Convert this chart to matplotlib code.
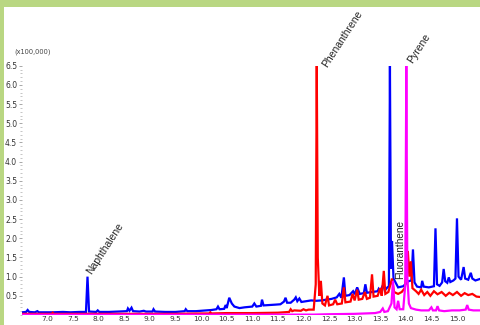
import numpy as np
import matplotlib.pyplot as plt
from matplotlib.patches import Rectangle
from matplotlib.ticker import MultipleLocator, FixedLocator

# Retention time (min) and intensity (x100,000)
blue_t = [6.50, 6.58, 6.61, 6.64, 6.75, 6.80, 6.83, 6.95, 7.10, 7.30, 7.45, 7.62,
          7.75, 7.78, 7.81, 7.95, 7.98, 8.01, 8.20, 8.40, 8.55, 8.57, 8.60, 8.64,
          8.67, 8.80, 8.88, 8.92, 9.05, 9.07, 9.10, 9.30, 9.50, 9.68, 9.70, 9.73,
          9.90, 10.10, 10.20, 10.30, 10.33, 10.36, 10.45, 10.48, 10.50, 10.55, 10.60,
          10.65, 10.75, 10.85, 11.00, 11.04, 11.08, 11.17, 11.19, 11.22, 11.35, 11.45,
          11.55, 11.62, 11.65, 11.68, 11.75, 11.82, 11.85, 11.88, 11.92, 11.96, 12.05,
          12.15, 12.25, 12.35, 12.45, 12.55, 12.65, 12.70, 12.74, 12.79, 12.82, 12.90,
          12.97, 13.00, 13.05, 13.10, 13.18, 13.21, 13.24, 13.35, 13.45, 13.47, 13.50,
          13.56, 13.59, 13.64, 13.67, 13.69, 13.71, 13.73, 13.76, 13.80, 13.85, 13.95,
          14.05, 14.11, 14.14, 14.17, 14.22, 14.30, 14.32, 14.35, 14.45, 14.55, 14.58,
          14.61, 14.66, 14.71, 14.74, 14.77, 14.81, 14.84, 14.87, 14.93, 14.97, 15.00,
          15.03, 15.08, 15.13, 15.16, 15.22, 15.27, 15.30, 15.36, 15.45]
blue_y = [0.07, 0.08, 0.13, 0.08, 0.07, 0.10, 0.07, 0.07, 0.07, 0.08, 0.07, 0.08,
          0.08, 1.00, 0.09, 0.08, 0.12, 0.08, 0.08, 0.09, 0.10, 0.17, 0.11, 0.19,
          0.10, 0.09, 0.11, 0.09, 0.09, 0.15, 0.09, 0.08, 0.08, 0.10, 0.15, 0.10,
          0.10, 0.12, 0.13, 0.15, 0.22, 0.15, 0.16, 0.26, 0.18, 0.45, 0.30,
          0.22, 0.18, 0.20, 0.22, 0.30, 0.22, 0.24, 0.40, 0.25, 0.26, 0.27,
          0.28, 0.35, 0.45, 0.32, 0.32, 0.40, 0.46, 0.36, 0.43, 0.34, 0.36,
          0.38, 0.37, 0.38, 0.40, 0.42, 0.46, 0.55, 0.45, 0.98, 0.50, 0.52,
          0.62, 0.54, 0.72, 0.55, 0.57, 0.80, 0.58, 0.60, 0.62, 0.68, 0.62,
          0.80, 0.64, 0.72, 0.75, 6.50, 1.20, 1.93, 0.95, 0.85, 0.72, 0.75,
          0.88, 0.90, 1.71, 0.85, 0.74, 0.72, 0.89, 0.74, 0.72, 0.75, 2.26,
          0.80, 0.76, 0.85, 1.20, 0.88, 0.84, 0.98, 0.86, 0.90, 0.95, 2.52,
          1.00, 0.92, 1.25, 0.95, 0.92, 1.10, 0.95, 0.90, 0.94]

red_t = [6.50, 6.90, 7.08, 7.10, 7.12, 7.50, 8.00, 8.50, 9.00, 9.50, 10.00, 10.16,
         10.18, 10.20, 10.50, 11.00, 11.50, 11.72, 11.75, 11.78, 11.82, 11.95, 12.00,
         12.05, 12.10, 12.20, 12.24, 12.26, 12.28, 12.31, 12.34, 12.37, 12.42, 12.47,
         12.50, 12.58, 12.62, 12.66, 12.75, 12.79, 12.82, 12.92, 12.96, 13.00, 13.05,
         13.08, 13.15, 13.20, 13.24, 13.30, 13.34, 13.37, 13.45, 13.50, 13.53, 13.57,
         13.60, 13.66, 13.73, 13.77, 13.85, 13.92, 13.98, 14.02, 14.04, 14.07, 14.10,
         14.13, 14.20, 14.25, 14.30, 14.36, 14.42, 14.48, 14.55, 14.62, 14.70, 14.78,
         14.85, 14.92, 15.00, 15.08, 15.15, 15.22, 15.30, 15.38, 15.45]
red_y = [0.03, 0.03, 0.03, 0.06, 0.03, 0.03, 0.03, 0.03, 0.03, 0.03, 0.04, 0.04,
         0.07, 0.04, 0.05, 0.05, 0.06, 0.08, 0.15, 0.10, 0.12, 0.11, 0.15,
         0.12, 0.14, 0.14, 0.80, 6.50, 1.50, 0.50, 0.89, 0.30, 0.25, 0.50,
         0.25, 0.28, 0.40, 0.28, 0.30, 0.72, 0.33, 0.35, 0.55, 0.38, 0.66,
         0.40, 0.42, 0.60, 0.42, 0.45, 1.06, 0.48, 0.50, 0.70, 0.50, 1.15,
         0.55, 0.60, 0.95, 0.60, 0.55, 0.60, 0.70, 1.20, 1.67, 1.00, 1.40,
         0.70, 0.62, 0.55, 0.66, 0.52, 0.60, 0.50, 0.62, 0.54, 0.60, 0.50,
         0.58, 0.52, 0.60, 0.50, 0.57, 0.52, 0.55, 0.48, 0.47]

mag_t = [6.50, 8.00, 10.00, 12.20, 12.50, 13.00, 13.40, 13.50, 13.55, 13.58, 13.65,
         13.72, 13.75, 13.78, 13.82, 13.85, 13.88, 13.95, 13.99, 14.01, 14.03, 14.06,
         14.10, 14.20, 14.30, 14.45, 14.50, 14.53, 14.59, 14.62, 14.65, 14.75, 14.90,
         15.05, 15.17, 15.20, 15.23, 15.32, 15.45]
mag_y = [0.01, 0.01, 0.01, 0.01, 0.02, 0.03, 0.05, 0.08, 0.17, 0.08, 0.10,
         0.30, 0.89, 0.20, 0.15, 0.37, 0.15, 0.15, 0.80, 6.50, 1.00, 0.30,
         0.18, 0.14, 0.12, 0.12, 0.20, 0.12, 0.12, 0.23, 0.12, 0.10, 0.12,
         0.12, 0.14, 0.26, 0.14, 0.12, 0.12]

fig = plt.figure(figsize=(4.8, 3.25), dpi=100)
fig.patch.set_facecolor('white')

# green frame of the page
green = '#b9d782'
fig.patches.append(Rectangle((0, 1 - 7 / 325), 1, 7 / 325, transform=fig.transFigure,
                             facecolor=green, edgecolor='none', zorder=0))
fig.patches.append(Rectangle((0, 0), 4 / 480, 1, transform=fig.transFigure,
                             facecolor=green, edgecolor='none', zorder=0))

ax = fig.add_axes([22 / 480, 10 / 325, 1 - 22 / 480, (315 - 65.7) / 325])

ax.plot(blue_t, blue_y, color='#0000ff', lw=1.6, solid_joinstyle='miter')
ax.plot(red_t, red_y, color='#ff0000', lw=1.6, solid_joinstyle='miter')
ax.plot(mag_t, mag_y, color='#ff00ff', lw=1.6, solid_joinstyle='miter')

ax.set_xlim(6.5, 15.45)
ax.set_ylim(0, 6.5)

for s in ['top', 'right', 'bottom', 'left']:
    ax.spines[s].set_visible(False)

ax.xaxis.set_major_locator(FixedLocator(np.arange(7.0, 15.01, 0.5)))
ax.xaxis.set_major_formatter(plt.FuncFormatter(lambda v, p: '%.1f' % v))
ax.yaxis.set_major_locator(FixedLocator(np.arange(0.5, 6.51, 0.5)))
ax.yaxis.set_major_formatter(plt.FuncFormatter(lambda v, p: '%.1f' % v))
ax.yaxis.set_minor_locator(MultipleLocator(0.1))

ax.tick_params(axis='x', length=0, pad=1, labelsize=5.3, labelcolor='#333333')
ax.tick_params(axis='y', which='major', length=2.5, width=0.6, color='#999999',
               pad=1, labelsize=5.5, labelcolor='#333333')
ax.tick_params(axis='y', which='minor', length=1.2, width=0.6, color='#bbbbbb')

fs = 7.5
font = 'Liberation Sans'
ax.annotate('Naphthalene', xy=(7.78, 1.0), xytext=(6, 1), textcoords='offset pixels',
            rotation=57, rotation_mode='anchor', ha='left', va='bottom',
            fontsize=fs, family=font, color='#222222')
ax.annotate('Phenanthrene', xy=(12.26, 6.5), xytext=(12, -3), textcoords='offset pixels',
            rotation=57, rotation_mode='anchor', ha='left', va='bottom',
            fontsize=fs, family=font, color='#222222', annotation_clip=False)
ax.annotate('Pyrene', xy=(14.01, 6.5), xytext=(8, 1), textcoords='offset pixels',
            rotation=57, rotation_mode='anchor', ha='left', va='bottom',
            fontsize=fs, family=font, color='#222222', annotation_clip=False)
ax.text(13.88, 0.93, 'Fluoranthene', rotation=90, ha='center', va='bottom',
        fontsize=7.2, family=font, color='#222222')

fig.text(33 / 480, 1 - 52 / 325, '(x100,000)', ha='center', va='center',
         fontsize=4.8, color='#444444')

fig.savefig('out.png', dpi=100)
